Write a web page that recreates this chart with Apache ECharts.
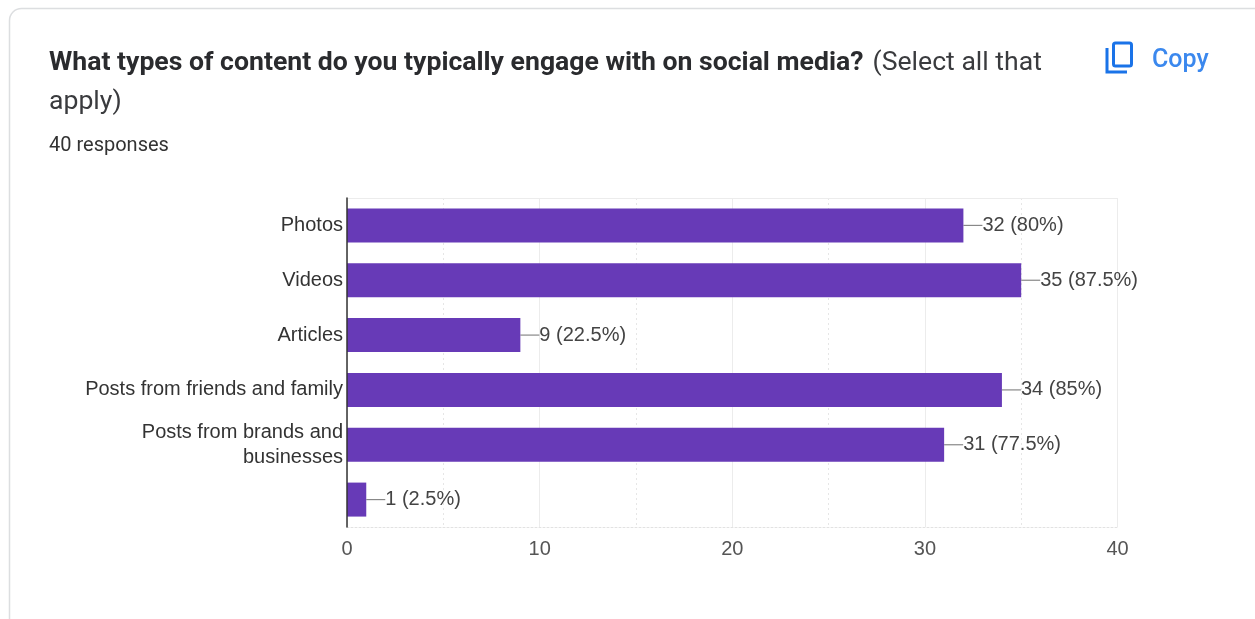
<!DOCTYPE html>
<html>
<head>
<meta charset="utf-8">
<style>
  html, body { margin: 0; padding: 0; background: #fff; }
  #chart { width: 1255px; height: 619px; }
</style>
<script src="https://cdn.jsdelivr.net/npm/echarts@6/dist/echarts.min.js"></script>
</head>
<body>
<div id="chart"></div>
<script>
const categories = ['Photos', 'Videos', 'Articles', 'Posts from friends and family', 'Posts from brands and\nbusinesses', ''];
const counts = [32, 35, 9, 34, 31, 1];
const shares = ['80%', '87.5%', '22.5%', '85%', '77.5%', '2.5%'];
const axisTicks = { min: 0, max: 40, interval: 10 };
const questionBold = 'What types of content do you typically engage with on social media?';
const questionTail = ' (Select all that';
const questionWrap = 'apply)';
const responseNote = '40 responses';
const copyLabel = 'Copy';

const chart = echarts.init(document.getElementById('chart'), null, { renderer: 'canvas' });

chart.setOption({
  animation: false,
  backgroundColor: '#ffffff',
  grid: { left: 347, top: 198, width: 770.5, height: 329, containLabel: false },
  xAxis: [{
    type: 'value',
    min: axisTicks.min,
    max: axisTicks.max,
    interval: axisTicks.interval,
    axisLine: { show: true, onZero: false, lineStyle: { color: '#e2e2e2', width: 1, type: [2, 2] } },
    axisTick: { show: false },
    axisLabel: { color: '#555555', fontFamily: 'Liberation Sans', fontSize: 20, margin: 12 },
    splitLine: { show: true, lineStyle: { color: '#ececec', width: 1 } },
    minorTick: { show: false, splitNumber: 2 },
    minorSplitLine: { show: true, lineStyle: { color: '#e6e6e6', width: 1, type: [2, 3] } }
  }, {
    // Plain rule along the top edge of the plot
    type: 'value',
    position: 'top',
    min: axisTicks.min,
    max: axisTicks.max,
    interval: axisTicks.interval,
    axisLine: { show: true, onZero: false, lineStyle: { color: '#ececec', width: 1 } },
    axisTick: { show: false },
    axisLabel: { show: false },
    splitLine: { show: false }
  }],
  yAxis: {
    type: 'category',
    inverse: true,
    data: categories,
    z: 5,
    axisLine: { show: true, onZero: false, lineStyle: { color: '#333333', width: 1.5 } },
    axisTick: { show: false },
    axisLabel: {
      color: '#333333',
      fontFamily: 'Liberation Sans',
      fontSize: 20,
      lineHeight: 25,
      margin: 4,
      padding: [2, 0, 0, 0],
      interval: 0,
      align: 'right'
    },
    splitLine: { show: false }
  },
  series: [{
    type: 'bar',
    data: counts,
    barWidth: 34,
    itemStyle: { color: '#673ab7' },
    label: {
      show: true,
      position: 'right',
      distance: 0,
      color: '#444444',
      fontFamily: 'Liberation Sans',
      fontSize: 20,
      padding: [2, 0, 0, 0],
      formatter: p => `${counts[p.dataIndex]} (${shares[p.dataIndex]})`
    },
    labelLayout: { dx: 19 },
    labelLine: { show: true, lineStyle: { color: '#888888', width: 1.2 } }
  }],
  graphic: [
    // Card outline
    {
      type: 'rect',
      z: -10,
      shape: { x: 9.5, y: 8.5, width: 1300, height: 700, r: 12 },
      style: { fill: '#ffffff', stroke: '#dcdee0', lineWidth: 1.5 }
    },
    // Question heading
    {
      type: 'text', left: 49, top: 50,
      style: { text: questionBold, fill: '#2a2b2e', font: 'bold 26.6px Roboto' }
    },
    {
      type: 'text', left: 866, top: 50,
      style: { text: questionTail, fill: '#3a3b3e', font: '26.6px Roboto' }
    },
    {
      type: 'text', left: 49, top: 89,
      style: { text: questionWrap, fill: '#3a3b3e', font: '26.6px Roboto' }
    },
    {
      type: 'text', left: 49, top: 136,
      style: { text: responseNote, fill: '#333333', font: '20px Roboto' }
    },
    // Copy button: two overlapping sheets and its caption
    {
      type: 'polyline',
      shape: { points: [[1107, 48], [1107, 72], [1127, 72]] },
      style: { stroke: '#1a73e8', lineWidth: 3, fill: null }
    },
    {
      type: 'rect',
      shape: { x: 1113.5, y: 43, width: 18, height: 23, r: 2 },
      style: { stroke: '#1a73e8', lineWidth: 3, fill: 'none' }
    },
    {
      type: 'text', left: 1152, top: 48,
      style: { text: copyLabel, fill: '#3b88ee', font: '500 25px Roboto' }
    }
  ]
});
</script>
</body>
</html>
